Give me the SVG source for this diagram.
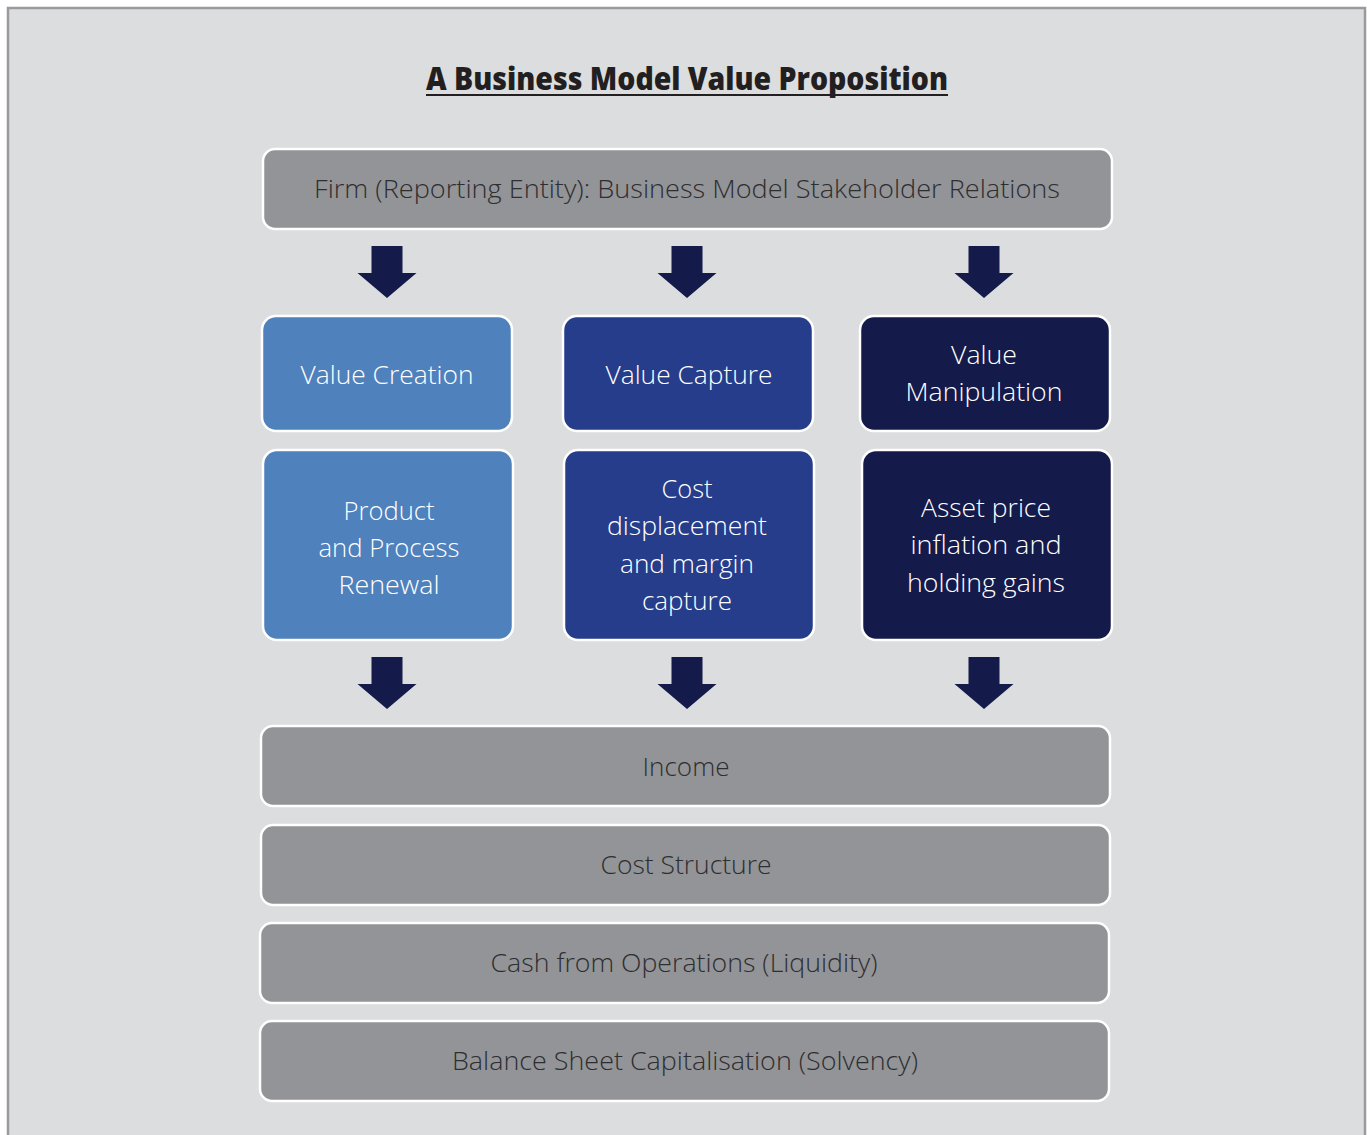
<svg xmlns="http://www.w3.org/2000/svg" width="1370" height="1135" viewBox="0 0 1370 1135">
<style>
.t{font-family:"Open Sans","Noto Sans","Liberation Sans",sans-serif;font-weight:300;font-size:25px;text-anchor:middle}
.w{fill:#ffffff}
.d{fill:#2e2e30}
.box{stroke:#ffffff;stroke-width:2.5}
.g{fill:#939497}
.b1{fill:#4f81bd}
.b2{fill:#253d8b}
.b3{fill:#141a4a}
.arr{fill:#141a4a}
</style>
<defs>
<path id="ar" d="M-15.5,0 H15.5 V27 H29.5 L0,52 L-29.5,27 H-15.5 Z"/>
</defs>
<rect x="0" y="0" width="1370" height="1135" fill="#ffffff"/>
<rect x="8" y="8" width="1357" height="1135" fill="#dcdddf" stroke="#9a9a9e" stroke-width="2.5"/>
<g id="title">
<text x="687" y="90" font-family="'Open Sans','Noto Sans','Liberation Sans',sans-serif" font-weight="800" font-size="32" fill="#231f20" text-anchor="middle" textLength="522" lengthAdjust="spacingAndGlyphs">A Business Model Value Proposition</text>
<line x1="426" y1="95" x2="948" y2="95" stroke="#231f20" stroke-width="2"/>
</g>
<g id="firm">
<rect class="box g" x="263" y="149" width="849" height="80" rx="12"/>
<text class="t d" x="687" y="198" textLength="746" lengthAdjust="spacingAndGlyphs">Firm (Reporting Entity): Business Model Stakeholder Relations</text>
</g>
<g id="connectors">
<use href="#ar" class="arr" x="387" y="246"/>
<use href="#ar" class="arr" x="687" y="246"/>
<use href="#ar" class="arr" x="984" y="246"/>
<use href="#ar" class="arr" x="387" y="657"/>
<use href="#ar" class="arr" x="687" y="657"/>
<use href="#ar" class="arr" x="984" y="657"/>
</g>
<g id="value-creation">
<rect class="box b1" x="262" y="316" width="250" height="115" rx="14"/>
<text class="t w" x="387" y="384" textLength="173" lengthAdjust="spacingAndGlyphs">Value Creation</text>
</g>
<g id="value-capture">
<rect class="box b2" x="563" y="316" width="250" height="115" rx="14"/>
<text class="t w" x="689" y="384" textLength="167" lengthAdjust="spacingAndGlyphs">Value Capture</text>
</g>
<g id="value-manipulation">
<rect class="box b3" x="860" y="316" width="250" height="115" rx="14"/>
<text class="t w" x="984" y="364" textLength="66" lengthAdjust="spacingAndGlyphs">Value</text>
<text class="t w" x="984" y="401" textLength="157" lengthAdjust="spacingAndGlyphs">Manipulation</text>
</g>
<g id="product-renewal">
<rect class="box b1" x="263" y="450" width="250" height="190" rx="14"/>
<text class="t w" x="389" y="520" textLength="91" lengthAdjust="spacingAndGlyphs">Product</text>
<text class="t w" x="389" y="557" textLength="141" lengthAdjust="spacingAndGlyphs">and Process</text>
<text class="t w" x="389" y="594" textLength="101" lengthAdjust="spacingAndGlyphs">Renewal</text>
</g>
<g id="cost-displacement">
<rect class="box b2" x="564" y="450" width="250" height="190" rx="14"/>
<text class="t w" x="687" y="498" textLength="51" lengthAdjust="spacingAndGlyphs">Cost</text>
<text class="t w" x="687" y="535" textLength="160" lengthAdjust="spacingAndGlyphs">displacement</text>
<text class="t w" x="687" y="573" textLength="134" lengthAdjust="spacingAndGlyphs">and margin</text>
<text class="t w" x="687" y="610" textLength="90" lengthAdjust="spacingAndGlyphs">capture</text>
</g>
<g id="asset-price">
<rect class="box b3" x="862" y="450" width="250" height="190" rx="14"/>
<text class="t w" x="986" y="517" textLength="130" lengthAdjust="spacingAndGlyphs">Asset price</text>
<text class="t w" x="986" y="554" textLength="151" lengthAdjust="spacingAndGlyphs">inflation and</text>
<text class="t w" x="986" y="592" textLength="158" lengthAdjust="spacingAndGlyphs">holding gains</text>
</g>
<g id="income">
<rect class="box g" x="261" y="726" width="849" height="80" rx="12"/>
<text class="t d" x="686" y="776" textLength="87" lengthAdjust="spacingAndGlyphs">Income</text>
</g>
<g id="cost-structure">
<rect class="box g" x="261" y="825" width="849" height="80" rx="12"/>
<text class="t d" x="686" y="874" textLength="171" lengthAdjust="spacingAndGlyphs">Cost Structure</text>
</g>
<g id="cash">
<rect class="box g" x="260" y="923" width="849" height="80" rx="12"/>
<text class="t d" x="684" y="972" textLength="387" lengthAdjust="spacingAndGlyphs">Cash from Operations (Liquidity)</text>
</g>
<g id="balance">
<rect class="box g" x="260" y="1021" width="849" height="80" rx="12"/>
<text class="t d" x="685" y="1070" textLength="466" lengthAdjust="spacingAndGlyphs">Balance Sheet Capitalisation (Solvency)</text>
</g>
</svg>
